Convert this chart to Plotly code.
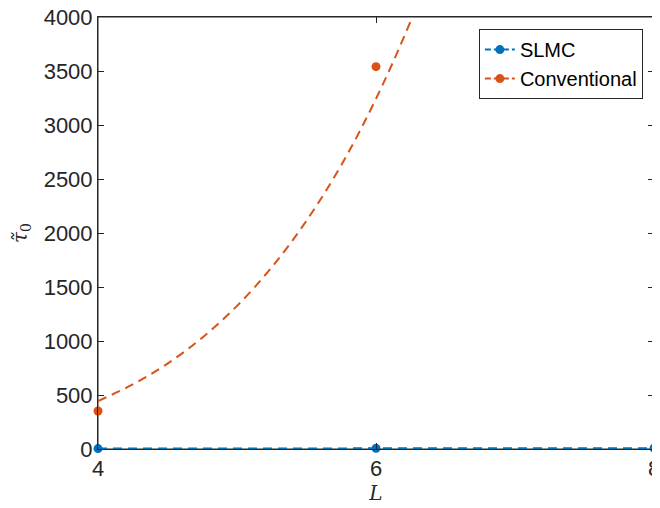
import plotly.graph_objects as go

# measured data points
L_pts = [4, 6, 8]
slmc_pts = [4, 6, 8]
conv_L = [4, 6]
conv_pts = [352, 3540]

# fitted curves
fit_L = [4.0, 4.25, 4.5, 4.75, 5.0, 5.25, 5.5, 5.75, 6.0, 6.25, 6.5]
conv_fit = [444, 598, 791, 1031, 1325, 1683, 2114, 2628, 3243, 3964, 4800]
slmc_fit_L = [4, 5, 6, 7, 8]
slmc_fit = [4, 5, 6, 7, 8]

x_ticks = [4, 6, 8]
y_ticks = [0, 500, 1000, 1500, 2000, 2500, 3000, 3500, 4000]

blue = "#0072BD"
orange = "#D95319"
axc = "#262626"
dash = "9px,6px"

fig = go.Figure()
fig.add_trace(go.Scatter(x=slmc_fit_L, y=slmc_fit, mode="lines",
                         line=dict(color=blue, width=2, dash=dash), showlegend=False))
fig.add_trace(go.Scatter(x=fit_L, y=conv_fit, mode="lines", line_shape="spline",
                         line=dict(color=orange, width=2, dash=dash), showlegend=False))
fig.add_trace(go.Scatter(x=L_pts, y=slmc_pts, mode="markers", cliponaxis=False,
                         marker=dict(color=blue, size=9), showlegend=False))
fig.add_trace(go.Scatter(x=conv_L, y=conv_pts, mode="markers", cliponaxis=False,
                         marker=dict(color=orange, size=9), showlegend=False))
# legend entries
fig.add_trace(go.Scatter(x=[None], y=[None], mode="lines+markers", name="SLMC",
                         line=dict(color=blue, width=2, dash="6px,3px"),
                         marker=dict(color=blue, size=9)))
fig.add_trace(go.Scatter(x=[None], y=[None], mode="lines+markers", name="Conventional",
                         line=dict(color=orange, width=2, dash="6px,3px"),
                         marker=dict(color=orange, size=9)))

axis_common = dict(showline=True, linecolor=axc, linewidth=1, mirror="ticks",
                   ticks="inside", ticklen=6, tickcolor=axc, showgrid=False,
                   zeroline=False, automargin=False, ticklabeloverflow="allow",
                   tickfont=dict(family="Liberation Sans, Arial, sans-serif", size=22, color=axc))

fig.update_xaxes(range=[4, 8], tickvals=x_ticks, ticktext=[str(v) for v in x_ticks],
                 title=dict(text="<i>L</i>", standoff=0,
                            font=dict(family="DejaVu Serif, serif", size=20, color=axc)),
                 **axis_common)
fig.update_yaxes(range=[0, 4000], tickvals=y_ticks, ticktext=[str(v) for v in y_ticks],
                 title=dict(text="<i>τ̃</i><sub>0</sub>", standoff=14,
                            font=dict(family="DejaVu Serif, serif", size=20, color=axc)),
                 **axis_common)

# axes box
fig.add_shape(type="rect", xref="paper", yref="paper", x0=0, x1=1, y0=0, y1=1,
              line=dict(color=axc, width=1), layer="below")

# page body has an 8px margin, so the figure is offset by 8px right and down
fig.update_layout(
    width=652, height=500,
    margin=dict(l=90, r=6, t=9, b=59),
    plot_bgcolor="white", paper_bgcolor="white",
    legend=dict(x=0.98, y=0.972, xanchor="right", yanchor="top",
                bordercolor=axc, borderwidth=1, bgcolor="white",
                font=dict(family="Liberation Sans, Arial, sans-serif", size=20, color="black"),
                tracegroupgap=0, itemwidth=30),
)

fig.write_html("out.html")
